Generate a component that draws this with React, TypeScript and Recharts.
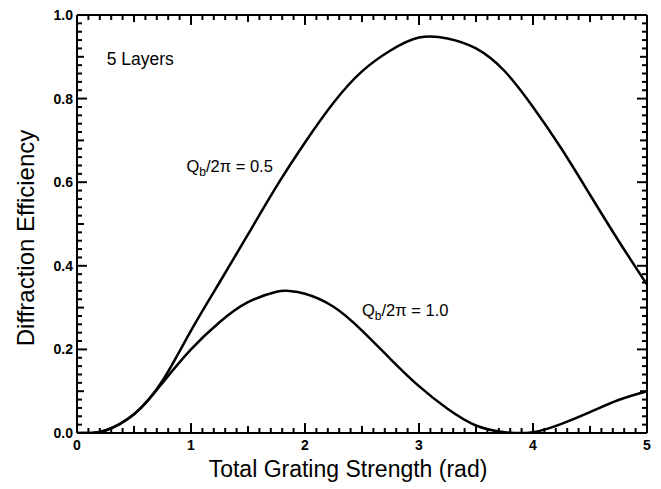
import React from 'react';
import { LineChart, Line, XAxis, YAxis, ReferenceDot } from 'recharts';

// curve for Qb/2pi = 0.5
const strengthHalf = [0, 0.12, 0.25, 0.5, 0.75, 1.0, 1.25, 1.5, 1.75, 2.0, 2.25, 2.5, 2.75, 3.0, 3.25, 3.5, 3.75, 4.0, 4.25, 4.5, 4.75, 5.0];
const effHalf = [0, 0, 0.006, 0.045, 0.125, 0.245, 0.36, 0.475, 0.59, 0.695, 0.79, 0.865, 0.915, 0.946, 0.944, 0.92, 0.866, 0.78, 0.68, 0.57, 0.46, 0.355];

// curve for Qb/2pi = 1.0
const strengthOne = [0, 0.12, 0.25, 0.5, 0.75, 1.0, 1.25, 1.5, 1.75, 1.85, 2.0, 2.25, 2.5, 2.75, 3.0, 3.25, 3.5, 3.75, 4.0, 4.25, 4.5, 4.75, 5.0];
const effOne = [0, 0, 0.006, 0.045, 0.12, 0.2, 0.265, 0.313, 0.338, 0.34, 0.333, 0.302, 0.245, 0.177, 0.112, 0.058, 0.018, 0.002, 0.002, 0.022, 0.05, 0.079, 0.1];

const xTickLabels = ['0', '1', '2', '3', '4', '5'];
const yTickLabels = ['0.0', '0.2', '0.4', '0.6', '0.8', '1.0'];

const curveHalf = strengthHalf.map((x, i) => ({ x, y: effHalf[i] }));
const curveOne = strengthOne.map((x, i) => ({ x, y: effOne[i] }));

// minor ticks every 0.1 on x, every 0.02 on y
const xTicks = Array.from({ length: 51 }, (_, i) => Number((i * 0.1).toFixed(2)));
const yTicks = Array.from({ length: 51 }, (_, i) => Number((i * 0.02).toFixed(2)));

const W = 661;
const H = 489;
const M = { top: 14, right: 13, bottom: 0, left: 0 };
const X_AXIS_H = 56;
const Y_AXIS_W = 77;
// plot box size in px
const PLOT_W = W - M.left - M.right - Y_AXIS_W - 1;
const PLOT_H = H - M.top - M.bottom - X_AXIS_H - 1;

const font = '"Liberation Sans", Arial, Helvetica, sans-serif';

const isMult = (v: number, step: number) => Math.abs(v / step - Math.round(v / step)) < 1e-6;

const xLen = (v: number) => (isMult(v, 1) ? 10 : isMult(v, 0.5) ? 7 : 5);
const yLen = (v: number) => (isMult(v, 0.2) ? 10 : isMult(v, 0.1) ? 7 : 5);

const BottomTick = (props: any) => {
  const { x, y, payload } = props;
  const v = payload.value;
  const label = isMult(v, 1) ? xTickLabels[Math.round(v)] : null;
  return (
    <g>
      <line x1={x} x2={x} y1={y} y2={y - xLen(v)} stroke="#000" strokeWidth={2} />
      {label !== null && (
        <text x={x} y={y + 17} textAnchor="middle" fontFamily={font} fontWeight="bold" fontSize={14} fill="#000">
          {label}
        </text>
      )}
    </g>
  );
};

const LeftTick = (props: any) => {
  const { x, y, payload } = props;
  const v = payload.value;
  const label = isMult(v, 0.2) ? yTickLabels[Math.round(v / 0.2)] : null;
  return (
    <g>
      <line x1={x} x2={x + yLen(v)} y1={y} y2={y} stroke="#000" strokeWidth={2} />
      {label !== null && (
        <text x={x - 4} y={y + 5} textAnchor="end" fontFamily={font} fontWeight="bold" fontSize={14} fill="#000">
          {label}
        </text>
      )}
    </g>
  );
};

// inward ticks along the top edge, anchored on the top-left corner (0, 1)
const TopTicks = (p: any) => (
  <g>
    {xTicks.map((v) => {
      const x = p.cx + (v / 5) * PLOT_W;
      return <line key={`t${v}`} x1={x} x2={x} y1={p.cy} y2={p.cy + xLen(v)} stroke="#000" strokeWidth={2} />;
    })}
  </g>
);

// inward ticks along the right edge, anchored on the bottom-right corner (5, 0)
const RightTicks = (p: any) => (
  <g>
    {yTicks.map((v) => {
      const y = p.cy - v * PLOT_H;
      return <line key={`r${v}`} x1={p.cx} x2={p.cx - yLen(v)} y1={y} y2={y} stroke="#000" strokeWidth={2} />;
    })}
  </g>
);

const XTitle = (props: any) => {
  const vb = props.viewBox;
  return (
    <text x={vb.x + vb.width / 2 - 14} y={vb.y + 44} textAnchor="middle" fontFamily={font} fontSize={23} fill="#000">
      Total Grating Strength (rad)
    </text>
  );
};

const YTitle = (props: any) => {
  const vb = props.viewBox;
  const cx = vb.x + 25;
  const cy = vb.y + vb.height / 2 + 14;
  return (
    <text x={cx} y={cy} transform={`rotate(-90 ${cx} ${cy})`} textAnchor="middle" dominantBaseline="central" fontFamily={font} fontSize={24} fill="#000">
      Diffraction Efficiency
    </text>
  );
};

const Note = (text: React.ReactNode, size: number) => (props: any) => (
  <text x={props.cx} y={props.cy} fontFamily={font} fontSize={size} fill="#000">
    {text}
  </text>
);

const qLabel = (val: string) => (
  <>
    Q<tspan fontSize={12} dy={4}>b</tspan>
    <tspan dy={-4}>/2π = {val}</tspan>
  </>
);

export default function App() {
  return (
    <div style={{ position: 'absolute', left: 0, top: 0, width: W, height: H, background: '#fff' }}>
      <LineChart width={W} height={H} margin={M}>
        <XAxis
          dataKey="x"
          type="number"
          domain={[0, 5]}
          ticks={xTicks}
          interval={0}
          tickSize={0}
          tickMargin={0}
          tickLine={false}
          height={X_AXIS_H}
          axisLine={{ stroke: '#000', strokeWidth: 2 }}
          tick={BottomTick}
          label={{ content: XTitle }}
        />
        <XAxis
          xAxisId="top"
          dataKey="x"
          orientation="top"
          type="number"
          domain={[0, 5]}
          tick={false}
          tickLine={false}
          height={1}
          axisLine={{ stroke: '#000', strokeWidth: 2 }}
        />
        <YAxis
          type="number"
          domain={[0, 1]}
          allowDataOverflow
          ticks={yTicks}
          interval={0}
          tickSize={0}
          tickMargin={0}
          tickLine={false}
          width={Y_AXIS_W}
          axisLine={{ stroke: '#000', strokeWidth: 2 }}
          tick={LeftTick}
          label={{ content: YTitle }}
        />
        <YAxis
          yAxisId="right"
          orientation="right"
          type="number"
          domain={[0, 1]}
          tick={false}
          tickLine={false}
          width={1}
          axisLine={{ stroke: '#000', strokeWidth: 2 }}
        />
        <Line data={curveHalf} dataKey="y" type="natural" stroke="#000" strokeWidth={2.5} dot={false} isAnimationActive={false} />
        <Line data={curveOne} dataKey="y" type="natural" stroke="#000" strokeWidth={2.5} dot={false} isAnimationActive={false} />
        <Line xAxisId="top" yAxisId="right" data={curveOne} dataKey="y" stroke="none" dot={false} activeDot={false} legendType="none" isAnimationActive={false} />
        <ReferenceDot x={0} y={1} r={5} shape={TopTicks} />
        <ReferenceDot x={5} y={0} r={5} shape={RightTicks} />
        <ReferenceDot x={0.26} y={0.88} r={0} shape={Note('5 Layers', 17.5)} />
        <ReferenceDot x={0.96} y={0.625} r={0} shape={Note(qLabel('0.5'), 16.5)} />
        <ReferenceDot x={2.5} y={0.28} r={0} shape={Note(qLabel('1.0'), 16.5)} />
      </LineChart>
    </div>
  );
}
